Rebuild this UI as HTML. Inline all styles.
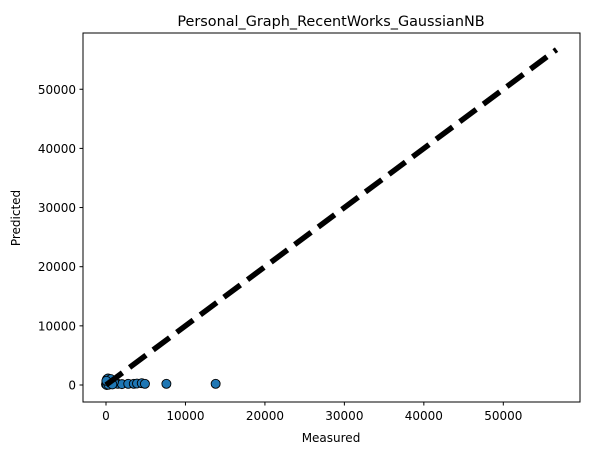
<!DOCTYPE html>
<html><head><meta charset="utf-8"><style>
body{margin:0;background:#fff;font-family:"Liberation Sans","DejaVu Sans",sans-serif;}
svg text{font-family:"DejaVu Sans","Liberation Sans",sans-serif;}
</style></head><body>
<svg id="chart" width="592" height="455" viewBox="0 0 592 455">
<rect x="0" y="0" width="592" height="455" fill="#fff"/>
<g id="marks"></g>
<rect x="83" y="33" width="497" height="369" fill="none" stroke="#000" stroke-width="1"/>
<g id="ticks"></g>
<text x="331" y="26" font-size="14.4" text-anchor="middle">Personal_Graph_RecentWorks_GaussianNB</text>
<text x="331" y="442" font-size="12" text-anchor="middle">Measured</text>
<text x="20" y="218" font-size="12" text-anchor="middle" transform="rotate(-90 20 218)">Predicted</text>
</svg>
<script>
const measured = [0,50,100,150,200,300,400,500,700,900,1200,1500,2000,2800,3500,3900,4500,4900,7600,13800,100,250,600,1000,300,50,800];
const predicted = [100,300,900,1000,200,600,150,400,800,200,300,200,150,200,200,250,300,200,200,200,0,1100,1000,500,50,700,100];
const xTicks = [0,10000,20000,30000,40000,50000];
const yTicks = [0,10000,20000,30000,40000,50000];
const lineRange = [0,56700];
const NS="http://www.w3.org/2000/svg";
function xs(v){return 106+v*0.007946;}
function ys(v){return 385-v*0.005915;}
const marks=document.getElementById('marks'), ticks=document.getElementById('ticks');
for(let i=0;i<measured.length;i++){
  const c=document.createElementNS(NS,'circle');
  c.setAttribute('cx',xs(measured[i]));c.setAttribute('cy',ys(predicted[i]));c.setAttribute('r',4.5);
  c.setAttribute('fill','#1f77b4');c.setAttribute('stroke','#000');c.setAttribute('stroke-width','0.9');
  
  
  marks.appendChild(c);
}
const ln=document.createElementNS(NS,'line');
ln.setAttribute('x1',xs(lineRange[0]));ln.setAttribute('y1',ys(lineRange[0]));
ln.setAttribute('x2',xs(lineRange[1]));ln.setAttribute('y2',ys(lineRange[1]));
ln.setAttribute('stroke','#000');ln.setAttribute('stroke-width','5.5');ln.setAttribute('stroke-dasharray','20.5 8.9');


marks.appendChild(ln);
xTicks.forEach(t=>{
  const x=xs(t);
  const l=document.createElementNS(NS,'line');
  l.setAttribute('x1',x);l.setAttribute('x2',x);l.setAttribute('y1',402);l.setAttribute('y2',405.5);l.setAttribute('stroke','#000');
  
  
  ticks.appendChild(l);
  const tx=document.createElementNS(NS,'text');
  tx.setAttribute('x',x);tx.setAttribute('y',420);tx.setAttribute('font-size','12');tx.setAttribute('text-anchor','middle');
  tx.textContent=t;
  
  
  ticks.appendChild(tx);
});
yTicks.forEach(t=>{
  const y=ys(t);
  const l=document.createElementNS(NS,'line');
  l.setAttribute('x1',79.5);l.setAttribute('x2',83);l.setAttribute('y1',y);l.setAttribute('y2',y);l.setAttribute('stroke','#000');
  
  
  ticks.appendChild(l);
  const tx=document.createElementNS(NS,'text');
  tx.setAttribute('x',76);tx.setAttribute('y',y+4.5);tx.setAttribute('font-size','12');tx.setAttribute('text-anchor','end');
  tx.textContent=t;
  
  
  ticks.appendChild(tx);
});
</script>
</body></html>
